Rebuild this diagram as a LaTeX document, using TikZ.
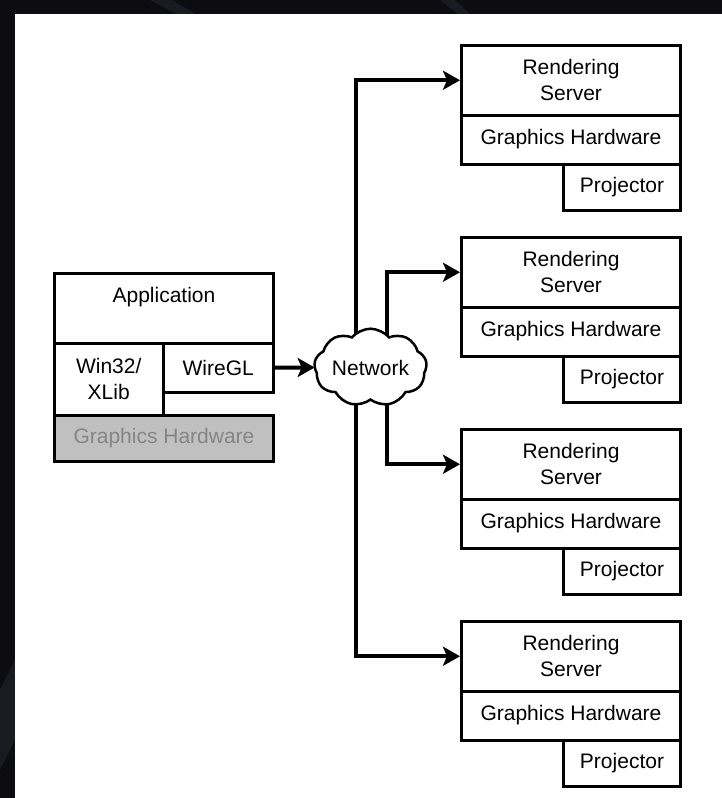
\documentclass[tikz,border=0pt]{standalone}
\usepackage{fontspec}
\setmainfont{Liberation Sans}
\usetikzlibrary{arrows.meta,shapes.symbols}
\definecolor{bgdark}{HTML}{0C0C11}
\definecolor{bgstreak}{HTML}{1A1A21}
\definecolor{hwgray}{HTML}{C0C0C0}
\definecolor{hwtext}{HTML}{858585}
\begin{document}
\begin{tikzpicture}[x=1pt,y=-1pt,
  box/.style={draw=black, line width=3pt, fill=white, inner sep=0pt, align=center,
    font=\fontsize{21}{26}\selectfont},
  hwbox/.style={box, fill=hwgray, text=hwtext},
  wire/.style={line width=4pt, line join=miter,
    -{Stealth[length=17pt,width=19pt,inset=4pt]}},
  netcloud/.style={cloud, cloud puffs=9, cloud puff arc=100, aspect=1.7,
    draw=black, line width=2.5pt, fill=white, inner sep=0pt, outer sep=0pt,
    minimum width=106pt, minimum height=64pt,
    font=\fontsize{21}{26}\selectfont}]

% backdrop and white sheet
\useasboundingbox (0,0) rectangle (722,798);
\fill[bgdark] (0,0) rectangle (722,798);
\fill[bgstreak] (150,0) -- (172,0) -- (196,14) -- (176,14) -- cycle;
\fill[bgstreak] (440,0) -- (455,0) -- (470,14) -- (458,14) -- cycle;
\fill[bgstreak] (0,690) -- (15,660) -- (15,740) -- (0,770) -- cycle;
\fill[white] (15,14) rectangle (722,798);

% client side stack
\node[box, minimum width=219pt, minimum height=69.5pt] (app) at (164,308.25) {Application\\\mbox{}};
\node[box, minimum width=108.5pt, minimum height=72pt] (win) at (108.75,379) {Win32/\\XLib};
\node[box, minimum width=110.5pt, minimum height=49pt] (wiregl) at (218.25,367.5) {WireGL};
\node[hwbox, minimum width=219pt, minimum height=46.5pt] (hw) at (164,438.25) {Graphics Hardware};

% rendering servers
\foreach \k in {1,...,4}{
  \pgfmathsetmacro{\yy}{44+192*(\k-1)}
  \node[box, minimum width=219pt, minimum height=69.5pt] (rs\k) at (571,\yy+36.25) {Rendering\\Server};
  \node[box, minimum width=219pt, minimum height=49pt] (gh\k) at (571,\yy+95.5) {Graphics Hardware};
  \node[box, minimum width=117pt, minimum height=46.5pt] (pj\k) at (622,\yy+143.25) {Projector};
}

% network fan-out
\coordinate (colA) at (356,367.5);
\coordinate (colB) at (387,367.5);
\draw[wire] (colA) |- (rs1.west);
\draw[wire] (colB) |- (rs2.west);
\draw[wire] (colB) |- (rs3.west);
\draw[wire] (colA) |- (rs4.west);

\node[netcloud] (net) at (370.5,367.5) {Network};
\draw[wire] (wiregl.east) -- (net.west);
\end{tikzpicture}
\end{document}
